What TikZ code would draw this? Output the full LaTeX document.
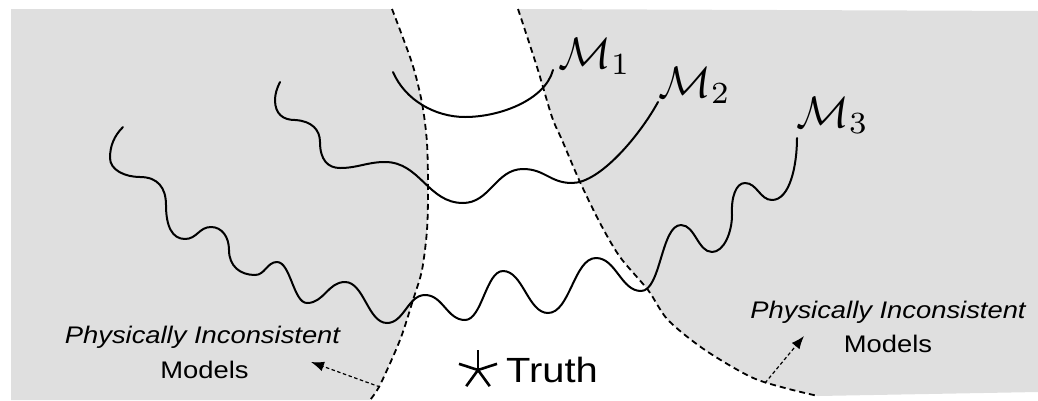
\documentclass[tikz,border=0pt]{standalone}
\usepackage{fontspec}
\usepackage{graphicx}
\newfontfamily\arialf{Liberation Sans}
\usetikzlibrary{arrows.meta}
\definecolor{regfill}{RGB}{223,223,223}
\begin{document}
\begin{tikzpicture}[x=1pt,y=-1pt,
  curve/.style={line width=2pt, line join=round, line cap=round},
  bound/.style={dash pattern=on 6pt off 4pt, line width=1.8pt},
  ptr/.style={dash pattern=on 3.5pt off 2.5pt, line width=1.2pt, -{Latex[length=13pt,width=10pt]}},
  lab/.style={font=\fontsize{24}{28}\selectfont\arialf, inner sep=0pt, anchor=base},
  mlab/.style={inner sep=0pt, anchor=base west}]
\useasboundingbox (0,0) rectangle (1038,400);
% shaded regions
\fill[regfill] (11,9) -- plot[smooth] coordinates {(392,9) (412,63) (422,103) (427,143) (428,190) (427,230) (422,270) (413,300) (400,340) (380,385) (370,400)} -- (11,400) -- cycle;
\fill[regfill] (1038,11) -- plot[smooth] coordinates {(518,9) (537,67) (552,117) (562,140) (580,182) (600,223) (620,257) (648,290) (668,320) (705,350) (751,377) (785,388) (818,396)} -- (1038,392) -- cycle;
% dashed boundaries
\draw[bound] plot[smooth] coordinates {(392,9) (412,63) (422,103) (427,143) (428,190) (427,230) (422,270) (413,300) (400,340) (380,385) (370,400)};
\draw[bound] plot[smooth] coordinates {(518,9) (537,67) (552,117) (562,140) (580,182) (600,223) (620,257) (648,290) (668,320) (705,350) (751,377) (785,388) (818,396)};
% model M1
\draw[curve] (393,72) .. controls (405,100) and (435,117) .. (465,117)
  .. controls (500,117) and (545,100) .. (553,70);
% model M2
\draw[curve] (280,82) .. controls (277,88) and (275,94) .. (275,100)
  .. controls (275,114) and (283,120) .. (295,120)
  .. controls (312,121) and (320,130) .. (320,142)
  .. controls (320,160) and (328,168) .. (340,168)
  .. controls (358,168) and (367,162) .. (385,162)
  .. controls (420,162) and (428,203) .. (463,203)
  .. controls (490,203) and (496,169) .. (523,169)
  .. controls (545,169) and (550,183) .. (572,183)
  .. controls (600,183) and (640,135) .. (658,102);
% model M3
\draw[curve] (123,127) .. controls (114,136) and (110,146) .. (110,158)
  .. controls (110,170) and (125,177) .. (140,177)
  .. controls (158,177) and (166,188) .. (166,205)
  .. controls (166,226) and (172,239) .. (185,239)
  .. controls (197,239) and (199,227) .. (211,227)
  .. controls (222,227) and (229,237) .. (229,250)
  .. controls (229,266) and (240,275) .. (255,275)
  .. controls (265,275) and (267,262) .. (277,262)
  .. controls (290.5,262) and (293.5,303) .. (307,303)
  .. controls (324,303) and (328,282) .. (345,282)
  .. controls (364,282) and (368,323) .. (387,323)
  .. controls (404,323) and (408,295) .. (425,295)
  .. controls (443,295) and (447,320) .. (465,320)
  .. controls (482,320) and (486,271) .. (503,271)
  .. controls (523,271) and (528,313) .. (548,313)
  .. controls (570,313) and (574,258) .. (596,258)
  .. controls (616,258) and (621,291) .. (641,291)
  .. controls (661,291) and (661,225) .. (681,225)
  .. controls (695,225) and (698,252) .. (712,252)
  .. controls (724,252) and (732,232) .. (732,215)
  .. controls (731,197) and (736,183) .. (745,183)
  .. controls (757,183) and (760,200) .. (772,200)
  .. controls (790,200) and (797,165) .. (797,138);
% model labels
\node[mlab] (m1) at (558,68) {\scalebox{4.4}{$\mathcal{M}_1$}};
\node[mlab] (m2) at (658,97) {\scalebox{4.4}{$\mathcal{M}_2$}};
\node[mlab] (m3) at (796,127) {\scalebox{4.4}{$\mathcal{M}_3$}};
% region labels
\node[lab] (lp1) at (202.5,343) {\scalebox{1.14}[1]{\itshape Physically Inconsistent}};
\node[lab] (lp2) at (204.5,378) {\scalebox{1.14}[1]{Models}};
\node[lab] (rp1) at (888,318) {\scalebox{1.14}[1]{\itshape Physically Inconsistent}};
\node[lab] (rp2) at (888,352) {\scalebox{1.14}[1]{Models}};
% pointers
\coordinate (lt) at (380,387);
\coordinate (lh) at (311,362);
\coordinate (rt) at (765,383);
\coordinate (rh) at (804,336);
\draw[ptr] (lt) -- (lh);
\draw[ptr] (rt) -- (rh);
% truth
\coordinate (st) at (478,370);
\foreach \a in {90,162,18,234,306}
  \draw[line width=2.6pt] (st) -- ++(-\a:20);
\node[anchor=base west, inner sep=0pt, font=\fontsize{35}{40}\selectfont\arialf] (truth) at (506,382) {\scalebox{1.14}[1]{Truth}};
\end{tikzpicture}
\end{document}
